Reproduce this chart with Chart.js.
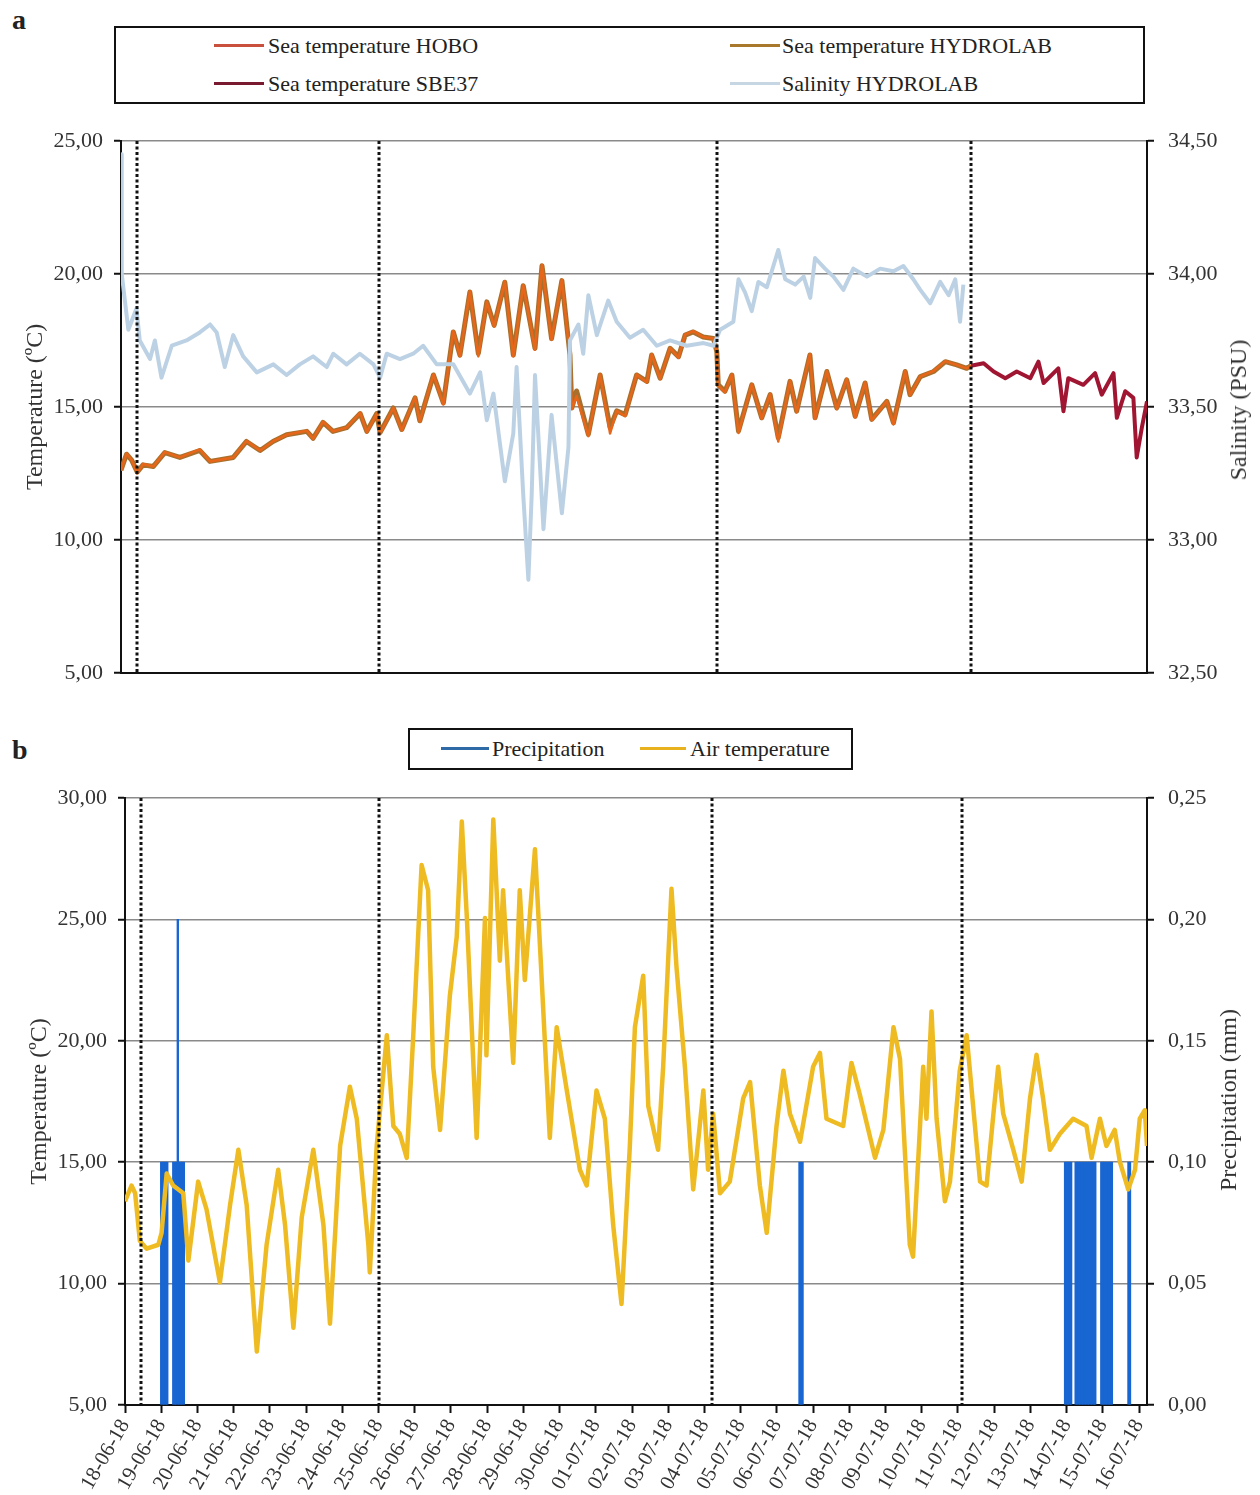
<!DOCTYPE html>
<html>
<head>
<meta charset="utf-8">
<title>Sea and air observations</title>
<script src="https://cdn.jsdelivr.net/npm/chart.js@4.4.1/dist/chart.umd.min.js"></script>
<style>
  html, body { margin: 0; padding: 0; background: #fff; }
  body { width: 1260px; height: 1495px; position: relative; overflow: hidden; font-family: 'Liberation Serif', 'Times New Roman', serif; color: #222; }
  canvas { position: absolute; left: 0; }
  #chart-a { top: 0; }
  #chart-b { top: 700px; }
  .panel-tag { position: absolute; left: 12px; font-weight: bold; font-size: 28px; line-height: 28px; }
  .legend-box { position: absolute; box-sizing: border-box; border: 2px solid #111; background: #fff; }
  .legend-line { position: absolute; height: 3px; }
  .legend-text { position: absolute; font-size: 22px; line-height: 22px; white-space: nowrap; }
  .axis-title { position: absolute; font-size: 24px; line-height: 24px; color: #333; white-space: nowrap;
                transform: translate(-50%, -50%) rotate(-90deg); }
</style>
</head>
<body>

<div class="panel-tag" style="top:6px">a</div>
<div class="panel-tag" style="top:736px">b</div>

<canvas id="chart-a" width="1260" height="700"></canvas>
<canvas id="chart-b" width="1260" height="795"></canvas>

<!-- right axis titles read bottom-to-top like the left ones -->
<div class="axis-title" style="left:1238px; top:410px">Salinity (PSU)</div>
<div class="axis-title" style="left:1228px; top:1100px">Precipitation (mm)</div>

<!-- legend a -->
<div class="legend-box" style="left:114px; top:26px; width:1031px; height:78px"></div>
<div class="legend-line" style="left:214px; top:44px; width:50px; background:#c8503c"></div>
<div class="legend-text" style="left:268px; top:35px">Sea temperature HOBO</div>
<div class="legend-line" style="left:730px; top:44px; width:50px; background:#a8782c"></div>
<div class="legend-text" style="left:782px; top:35px">Sea temperature HYDROLAB</div>
<div class="legend-line" style="left:214px; top:82px; width:50px; background:#7a1a30"></div>
<div class="legend-text" style="left:268px; top:73px">Sea temperature SBE37</div>
<div class="legend-line" style="left:730px; top:82px; width:50px; background:#c6d6e2"></div>
<div class="legend-text" style="left:782px; top:73px">Salinity HYDROLAB</div>

<!-- legend b -->
<div class="legend-box" style="left:408px; top:728px; width:445px; height:42px"></div>
<div class="legend-line" style="left:441px; top:747px; width:48px; background:#2e6aa6"></div>
<div class="legend-text" style="left:492px; top:738px">Precipitation</div>
<div class="legend-line" style="left:640px; top:747px; width:46px; background:#e8b21e"></div>
<div class="legend-text" style="left:690px; top:738px">Air temperature</div>

<script>
// ============================================
// Data — time in days since 18-06-18 00:00
// ============================================

// Sampling campaign markers (dotted lines)
const markerDays = [0.44, 7.0, 16.2, 23.1];

// Sea temperature HYDROLAB / HOBO (°C)
const seaDays = [
  0.00, 0.15, 0.29, 0.44, 0.60, 0.88, 1.19, 1.60, 2.14, 2.42, 3.05, 3.41, 3.78, 4.13, 4.50,
  5.05, 5.22, 5.49, 5.76, 6.13, 6.50, 6.68, 6.95, 7.04, 7.40, 7.63, 7.99, 8.12, 8.49, 8.76,
  9.03, 9.21, 9.48, 9.71, 9.94, 10.14, 10.43, 10.66, 10.93, 11.25, 11.44, 11.70, 11.98, 12.20, 12.25,
  12.38, 12.70, 13.02, 13.29, 13.47, 13.70, 14.01, 14.29, 14.42, 14.65, 14.92, 15.15, 15.33, 15.55, 15.82,
  16.10, 16.19, 16.23, 16.41, 16.60, 16.78, 17.14, 17.41, 17.64, 17.86, 18.18, 18.36, 18.72, 18.86, 19.18,
  19.45, 19.72, 19.95, 20.22, 20.40, 20.81, 20.99, 21.31, 21.44, 21.72, 22.08, 22.40, 22.71, 22.98, 23.10
];
const hydrolabTemp = [
  12.62, 13.22, 13.00, 12.55, 12.82, 12.76, 13.28, 13.10, 13.36, 12.95, 13.10, 13.70, 13.36, 13.70, 13.95,
  14.08, 13.82, 14.42, 14.08, 14.22, 14.75, 14.08, 14.75, 14.03, 14.96, 14.15, 15.34, 14.48, 16.20, 15.15,
  17.82, 16.95, 19.32, 17.01, 18.95, 18.07, 19.69, 16.95, 19.56, 17.20, 20.31, 17.57, 19.75, 16.95, 14.96,
  15.60, 13.97, 16.20, 14.22, 14.85, 14.71, 16.20, 15.96, 16.95, 16.08, 17.20, 16.89, 17.70, 17.82, 17.63,
  17.57, 17.08, 15.83, 15.59, 16.20, 14.09, 15.83, 14.59, 15.46, 13.84, 15.96, 14.84, 16.95, 14.59, 16.33,
  14.96, 16.02, 14.65, 15.90, 14.53, 15.21, 14.40, 16.33, 15.46, 16.14, 16.33, 16.70, 16.58, 16.45, 16.55
];
const hoboTemp = [
  12.60, 13.25, 13.00, 12.50, 12.85, 12.76, 13.30, 13.10, 13.40, 12.95, 13.10, 13.72, 13.36, 13.70, 13.95,
  14.10, 13.80, 14.45, 14.08, 14.22, 14.78, 14.05, 14.75, 14.00, 14.96, 14.12, 15.36, 14.45, 16.22, 15.10,
  17.85, 16.90, 19.35, 16.90, 18.95, 18.02, 19.72, 16.90, 19.58, 17.15, 20.34, 17.52, 19.78, 16.90, 14.92,
  15.40, 13.90, 16.22, 14.00, 14.85, 14.65, 16.22, 15.92, 16.98, 16.05, 17.22, 16.85, 17.72, 17.85, 17.63,
  17.57, 17.05, 15.80, 15.55, 16.22, 14.02, 15.85, 14.55, 15.48, 13.70, 15.98, 14.80, 16.98, 14.55, 16.35,
  14.92, 16.05, 14.60, 15.92, 14.50, 15.22, 14.35, 16.35, 15.44, 16.15, 16.35, 16.72, 16.58, 16.45, 16.55
];

// Sea temperature SBE37 (°C)
const sbeDays = [
  23.10, 23.44, 23.71, 24.03, 24.34, 24.71, 24.93, 25.07, 25.47, 25.61, 25.74,
  26.15, 26.47, 26.65, 26.97, 27.06, 27.29, 27.51, 27.60, 27.74, 27.88
];
const sbeTemp = [
  16.55, 16.64, 16.33, 16.08, 16.33, 16.08, 16.70, 15.90, 16.45, 14.84, 16.08,
  15.83, 16.27, 15.46, 16.27, 14.59, 15.59, 15.34, 13.10, 14.22, 15.21
];

// Salinity HYDROLAB (PSU)
const salDays = [
  0.00, 0.02, 0.20, 0.42, 0.51, 0.79, 0.92, 1.10, 1.38, 1.78, 2.14, 2.42, 2.60, 2.82, 3.05,
  3.32, 3.69, 4.14, 4.50, 4.86, 5.22, 5.59, 5.77, 6.13, 6.49, 6.86, 7.04, 7.22, 7.58, 7.94,
  8.21, 8.58, 9.03, 9.48, 9.76, 9.94, 10.12, 10.43, 10.66, 10.75, 10.93, 11.07, 11.16, 11.25, 11.48,
  11.70, 11.98, 12.16, 12.20, 12.43, 12.56, 12.70, 12.93, 13.24, 13.47, 13.83, 14.19, 14.56, 14.92, 15.37,
  15.83, 16.10, 16.28, 16.64, 16.78, 16.96, 17.14, 17.32, 17.55, 17.86, 18.05, 18.32, 18.55, 18.73, 18.86,
  19.13, 19.36, 19.63, 19.90, 20.27, 20.63, 20.99, 21.26, 21.53, 21.72, 21.99, 22.26, 22.49, 22.67, 22.80, 22.89
];
const salinity = [
  34.45, 34.00, 33.79, 33.87, 33.75, 33.68, 33.75, 33.61, 33.73, 33.75, 33.78, 33.81, 33.78, 33.65, 33.77,
  33.69, 33.63, 33.66, 33.62, 33.66, 33.69, 33.65, 33.70, 33.66, 33.70, 33.66, 33.61, 33.70, 33.68, 33.70,
  33.73, 33.66, 33.66, 33.55, 33.63, 33.45, 33.55, 33.22, 33.40, 33.65, 33.17, 32.85, 33.17, 33.62, 33.04,
  33.47, 33.10, 33.35, 33.75, 33.81, 33.70, 33.92, 33.77, 33.90, 33.82, 33.76, 33.79, 33.73, 33.75, 33.73,
  33.74, 33.73, 33.79, 33.82, 33.98, 33.93, 33.86, 33.97, 33.95, 34.09, 33.98, 33.96, 33.99, 33.91, 34.06,
  34.02, 33.99, 33.94, 34.02, 33.99, 34.02, 34.01, 34.03, 33.98, 33.94, 33.89, 33.97, 33.92, 33.98, 33.82, 33.96
];

// Air temperature (°C)
const airDays = [
  0.00, 0.18, 0.28, 0.41, 0.60, 0.92, 1.01, 1.15, 1.33, 1.61, 1.75, 2.02, 2.25, 2.62, 2.90,
  3.13, 3.36, 3.64, 3.91, 4.23, 4.42, 4.65, 4.88, 5.20, 5.48, 5.66, 5.94, 6.21, 6.40, 6.72,
  6.76, 6.95, 7.23, 7.41, 7.59, 7.78, 7.96, 8.19, 8.37, 8.51, 8.70, 8.97, 9.16, 9.30, 9.44,
  9.71, 9.94, 9.98, 10.17, 10.35, 10.44, 10.72, 10.90, 11.04, 11.32, 11.46, 11.73, 11.92, 12.20, 12.56,
  12.75, 13.02, 13.25, 13.48, 13.71, 13.94, 14.08, 14.31, 14.45, 14.72, 14.86, 15.09, 15.23, 15.46, 15.69,
  15.97, 16.10, 16.24, 16.43, 16.70, 17.07, 17.26, 17.53, 17.72, 17.99, 18.18, 18.36, 18.64, 19.00, 19.19,
  19.37, 19.83, 20.06, 20.29, 20.71, 20.94, 21.22, 21.40, 21.67, 21.76, 22.04, 22.13, 22.27, 22.41, 22.64,
  22.78, 23.05, 23.24, 23.42, 23.61, 23.79, 23.98, 24.11, 24.25, 24.53, 24.76, 24.99, 25.17, 25.35, 25.54,
  25.81, 26.18, 26.55, 26.69, 26.92, 27.10, 27.33, 27.47, 27.70, 27.89, 28.02, 28.16, 28.22
];
const airTemp = [
  13.39, 14.04, 13.72, 11.76, 11.44, 11.60, 12.09, 14.53, 14.04, 13.72, 10.95, 14.20, 13.07, 10.05, 13.23,
  15.51, 13.23, 7.20, 11.60, 14.69, 12.41, 8.18, 12.73, 15.51, 12.41, 8.35, 15.67, 18.11, 16.79, 11.60,
  10.46, 15.67, 20.23, 16.49, 16.16, 15.18, 20.23, 27.24, 26.20, 18.93, 16.33, 21.86, 24.28, 29.03, 25.06,
  16.00, 25.06, 19.40, 29.11, 23.30, 26.20, 19.09, 26.20, 22.50, 27.89, 23.87, 16.00, 20.56, 17.95, 14.69,
  14.04, 17.95, 16.79, 12.41, 9.16, 15.67, 20.56, 22.68, 17.30, 15.51, 18.93, 26.26, 23.00, 18.93, 13.88,
  17.95, 14.69, 17.00, 13.72, 14.20, 17.63, 18.30, 14.04, 12.09, 16.49, 18.77, 17.00, 15.84, 18.93, 19.50,
  16.79, 16.49, 19.09, 17.79, 15.18, 16.33, 20.56, 19.25, 11.60, 11.11, 18.93, 16.79, 21.21, 16.79, 13.39,
  14.20, 18.77, 20.23, 17.30, 14.20, 14.04, 17.00, 18.93, 17.00, 15.51, 14.20, 17.63, 19.42, 17.63, 15.51,
  16.16, 16.79, 16.49, 15.18, 16.79, 15.67, 16.33, 15.02, 13.88, 14.69, 16.79, 17.14, 15.67
];

// Precipitation (mm), hourly — hours since 18-06-18 00:00
const precipHours = [
  24, 25, 26, 27, 28,
  32, 33, 34, 35, 36, 37, 38, 39,
  447, 448, 449,
  623, 624, 625, 626, 627,
  630, 631, 632, 633, 634, 635, 636, 637, 638, 639, 640, 641, 642, 643,
  647, 648, 649, 650, 651, 652, 653, 654,
  665, 666
];
const precipMm = [
  0.1, 0.1, 0.1, 0.1, 0.1,
  0.1, 0.1, 0.1, 0.2, 0.1, 0.1, 0.1, 0.1,
  0.1, 0.1, 0.1,
  0.1, 0.1, 0.1, 0.1, 0.1,
  0.1, 0.1, 0.1, 0.1, 0.1, 0.1, 0.1, 0.1, 0.1, 0.1, 0.1, 0.1, 0.1, 0.1,
  0.1, 0.1, 0.1, 0.1, 0.1, 0.1, 0.1, 0.1,
  0.1, 0.1
];

// X tick labels (one per day)
const dateLabels = [
  '18-06-18', '19-06-18', '20-06-18', '21-06-18', '22-06-18', '23-06-18', '24-06-18', '25-06-18',
  '26-06-18', '27-06-18', '28-06-18', '29-06-18', '30-06-18', '01-07-18', '02-07-18', '03-07-18',
  '04-07-18', '05-07-18', '06-07-18', '07-07-18', '08-07-18', '09-07-18', '10-07-18', '11-07-18',
  '12-07-18', '13-07-18', '14-07-18', '15-07-18', '16-07-18'
];

// ============================================
// Helpers
// ============================================

const FONT = "'Liberation Serif', 'Times New Roman', serif";

function toPoints(xs, ys) {
  return xs.map((x, i) => ({ x, y: ys[i] }));
}

function commaNumber(v) {
  return Number(v).toFixed(2).replace('.', ',');
}

// Dotted vertical lines at the sampling dates
const markerLines = {
  id: 'markerLines',
  afterDatasetsDraw(chart, args, opts) {
    const { ctx, chartArea } = chart;
    const x = chart.scales.x;
    ctx.save();
    ctx.strokeStyle = '#111';
    ctx.lineWidth = 3;
    ctx.setLineDash([3, 2.5]);
    (opts.days || []).forEach(d => {
      const px = Math.round(x.getPixelForValue(d));
      ctx.beginPath();
      ctx.moveTo(px, chartArea.top);
      ctx.lineTo(px, chartArea.bottom);
      ctx.stroke();
    });
    ctx.restore();
  }
};

// title = null -> the title is set in HTML (right axes read bottom-to-top)
function yAxis(position, min, max, step, width, title, titlePad, labelPad) {
  return {
    type: 'linear',
    position,
    min,
    max,
    afterFit: scale => { scale.width = width; },
    ticks: {
      stepSize: step,
      padding: labelPad,
      color: '#333',
      font: { family: FONT, size: 22 },
      callback: v => commaNumber(v)
    },
    grid: {
      display: true,
      drawOnChartArea: position === 'left',
      color: '#8a8a8a',
      lineWidth: 1.5,
      drawTicks: true,
      tickLength: 7,
      tickColor: '#111',
      tickWidth: 2
    },
    border: { display: true, color: '#111', width: 2 },
    title: {
      display: !!title,
      text: title || '',
      color: '#333',
      padding: { top: titlePad, bottom: 0 },
      font: { family: FONT, size: 24 }
    }
  };
}

// ============================================
// Panel a — sea temperature and salinity
// ============================================

function renderPanelA() {
  const ctx = document.getElementById('chart-a').getContext('2d');

  new Chart(ctx, {
    type: 'line',
    data: {
      datasets: [
        {
          label: 'Salinity HYDROLAB',
          data: toPoints(salDays, salinity),
          yAxisID: 'yS',
          borderColor: '#bcd2e4',
          borderWidth: 4,
          order: 0
        },
        {
          label: 'Sea temperature HOBO',
          data: toPoints(seaDays, hoboTemp),
          yAxisID: 'yT',
          borderColor: '#e8661a',
          borderWidth: 2.5,
          order: 1
        },
        {
          label: 'Sea temperature HYDROLAB',
          data: toPoints(seaDays, hydrolabTemp),
          yAxisID: 'yT',
          borderColor: '#a8702c',
          borderWidth: 5,
          order: 2
        },
        {
          label: 'Sea temperature SBE37',
          data: toPoints(sbeDays, sbeTemp),
          yAxisID: 'yT',
          borderColor: '#a01532',
          borderWidth: 4,
          order: 1
        }
      ]
    },
    options: {
      responsive: false,
      animation: false,
      layout: { padding: { top: 141, left: 0, right: 0, bottom: 0 } },
      elements: { point: { radius: 0 }, line: { tension: 0, borderJoinStyle: 'round' } },
      plugins: {
        legend: { display: false },
        tooltip: { enabled: false },
        markerLines: { days: markerDays }
      },
      scales: {
        x: {
          type: 'linear',
          min: 0,
          max: 27.88,
          afterFit: scale => { scale.height = 23; },
          ticks: { display: false },
          grid: { display: false },
          border: { display: true, color: '#111', width: 2 }
        },
        yT: yAxis('left', 5, 25, 5, 121, 'Temperature (ºC)', 21, 11),
        yS: yAxis('right', 32.5, 34.5, 0.5, 113, null, 0, 14)
      }
    },
    plugins: [markerLines]
  });
}

// ============================================
// Panel b — precipitation and air temperature
// ============================================

function renderPanelB() {
  const ctx = document.getElementById('chart-b').getContext('2d');

  new Chart(ctx, {
    type: 'bar',
    data: {
      datasets: [
        {
          type: 'line',
          label: 'Air temperature',
          data: toPoints(airDays, airTemp),
          yAxisID: 'yT',
          borderColor: '#efbb22',
          borderWidth: 4.5,
          order: 0
        },
        {
          type: 'bar',
          label: 'Precipitation',
          data: precipHours.map((h, i) => ({ x: h / 24, y: precipMm[i] })),
          yAxisID: 'yP',
          backgroundColor: '#1866d2',
          borderWidth: 0,
          barThickness: 1.7,
          order: 1
        }
      ]
    },
    options: {
      responsive: false,
      animation: false,
      layout: { padding: { top: 98, left: 0, right: 0, bottom: 0 } },
      elements: { point: { radius: 0 }, line: { tension: 0, borderJoinStyle: 'round' } },
      plugins: {
        legend: { display: false },
        tooltip: { enabled: false },
        markerLines: { days: markerDays }
      },
      scales: {
        x: {
          type: 'linear',
          min: 0,
          max: 28.22,
          offset: false,
          afterFit: scale => { scale.height = 90; },
          ticks: {
            stepSize: 1,
            includeBounds: false,
            autoSkip: false,
            minRotation: 60,
            maxRotation: 60,
            padding: 2,
            color: '#333',
            font: { family: FONT, size: 21 },
            callback: v => dateLabels[Math.round(v)] || ''
          },
          grid: {
            display: true,
            offset: false,
            drawOnChartArea: false,
            drawTicks: true,
            tickLength: 8,
            tickColor: '#111',
            tickWidth: 2
          },
          border: { display: true, color: '#111', width: 2 }
        },
        yT: yAxis('left', 5, 30, 5, 125, 'Temperature (ºC)', 25, 11),
        yP: yAxis('right', 0, 0.25, 0.05, 113, null, 0, 14)
      }
    },
    plugins: [markerLines]
  });
}

renderPanelA();
renderPanelB();
</script>
</body>
</html>
